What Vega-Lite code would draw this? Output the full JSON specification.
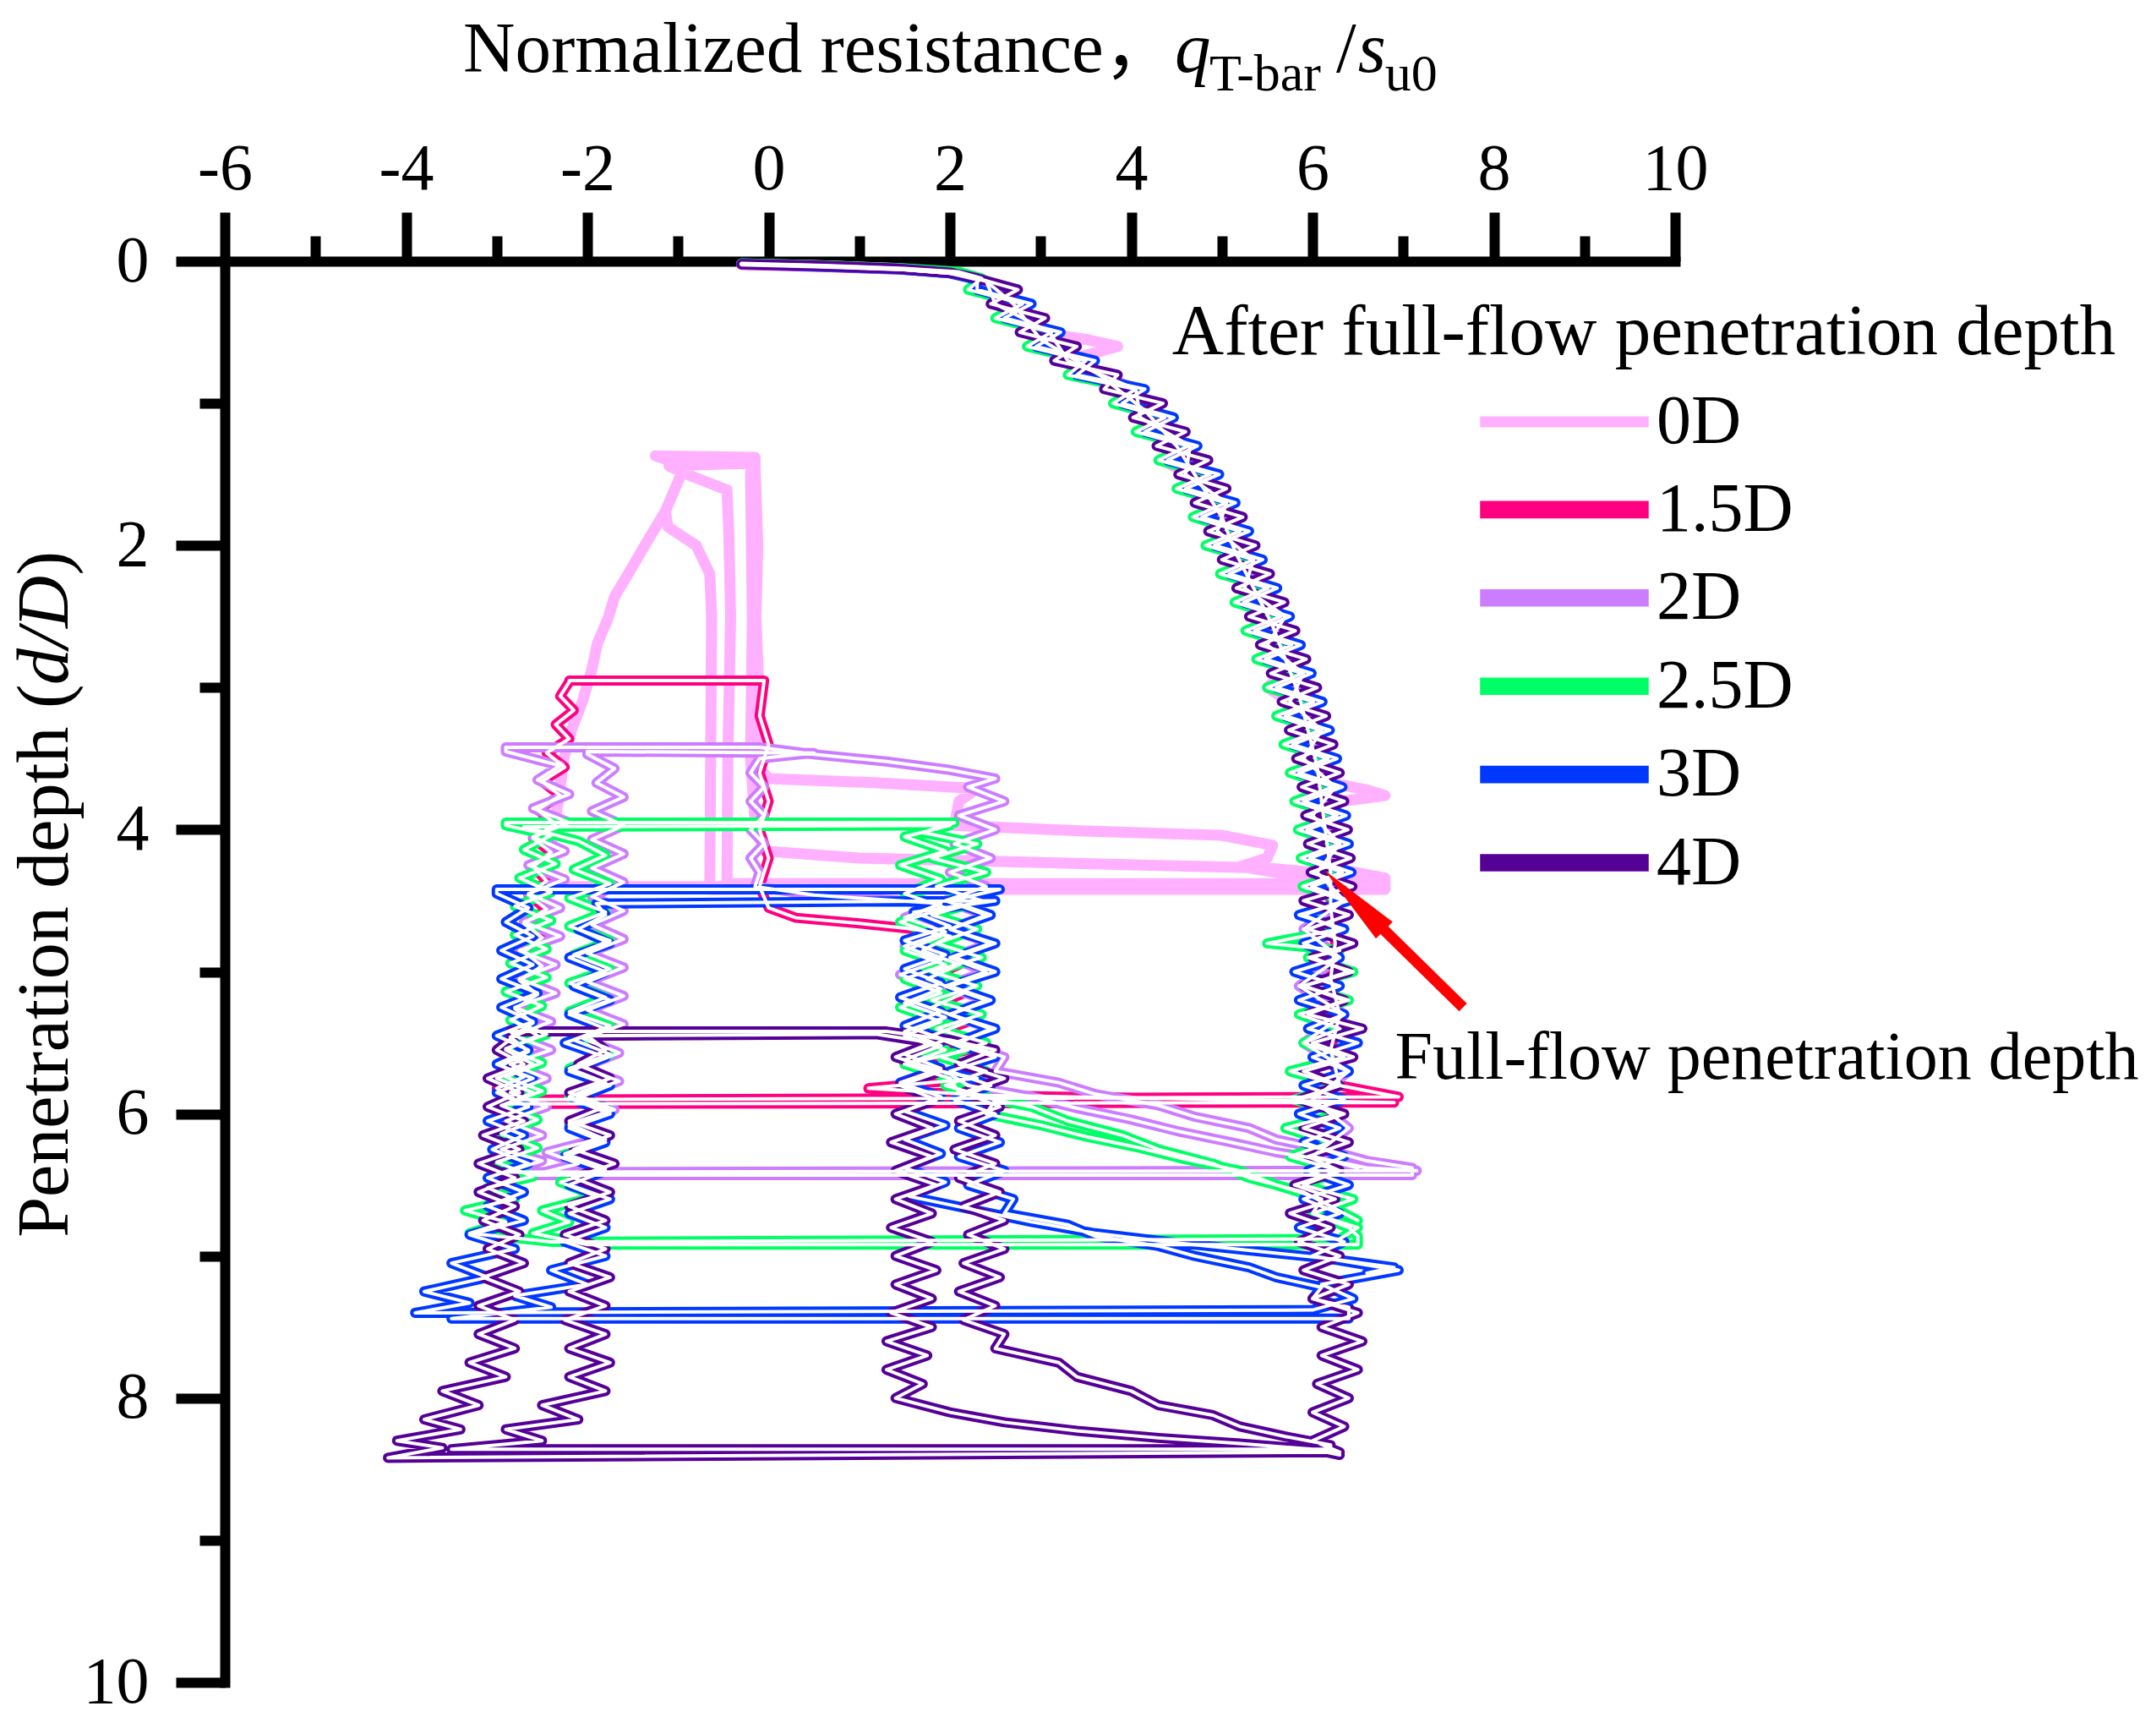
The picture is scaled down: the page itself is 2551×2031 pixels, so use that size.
{
"$schema":"https://vega.github.io/schema/vega-lite/v6.json",
"width":1716,"height":1681,"autosize":"none",
"padding":{"left":266,"top":309,"right":569,"bottom":41},
"background":"white",
"config":{"view":{"stroke":null},"font":"Liberation Serif",
 "axis":{"tickWidth":12,"tickColor":"black","domainWidth":12,"domainColor":"black","domainCap":"square","tickCap":"butt","labelFont":"Liberation Serif","labelFontSize":78,"labelColor":"black","labelOverlap":false,"labelFlush":false,"grid":false}},
"datasets":{"c":[
{"s":"0D","x":-0.3,"y":0.02},{"s":"0D","x":0.5,"y":0.03},{"s":"0D","x":1.4,"y":0.05},{"s":"0D","x":2.0,"y":0.08},{"s":"0D","x":2.3,"y":0.12},{"s":"0D","x":2.5,"y":0.2},{"s":"0D","x":2.65,"y":0.3},{"s":"0D","x":2.8,"y":0.4},{"s":"0D","x":2.97,"y":0.5},{"s":"0D","x":3.5,"y":0.55},{"s":"0D","x":3.85,"y":0.6},{"s":"0D","x":3.4,"y":0.68},{"s":"0D","x":3.6,"y":0.8},{"s":"0D","x":3.9,"y":0.9},{"s":"0D","x":4.1,"y":1.0},{"s":"0D","x":4.22,"y":1.1},{"s":"0D","x":4.35,"y":1.2},{"s":"0D","x":4.48,"y":1.3},{"s":"0D","x":4.4,"y":1.42},{"s":"0D","x":4.65,"y":1.5},{"s":"0D","x":4.72,"y":1.6},{"s":"0D","x":4.82,"y":1.7},{"s":"0D","x":4.9,"y":1.8},{"s":"0D","x":4.97,"y":1.9},{"s":"0D","x":5.05,"y":2.0},{"s":"0D","x":5.12,"y":2.1},{"s":"0D","x":5.2,"y":2.2},{"s":"0D","x":5.28,"y":2.3},{"s":"0D","x":5.34,"y":2.4},{"s":"0D","x":5.42,"y":2.5},{"s":"0D","x":5.5,"y":2.6},{"s":"0D","x":5.56,"y":2.7},{"s":"0D","x":5.62,"y":2.8},{"s":"0D","x":5.68,"y":2.9},{"s":"0D","x":5.5,"y":3.0},{"s":"0D","x":5.7,"y":3.08},{"s":"0D","x":5.85,"y":3.15},{"s":"0D","x":5.9,"y":3.25},{"s":"0D","x":5.95,"y":3.35},{"s":"0D","x":6.0,"y":3.45},{"s":"0D","x":6.02,"y":3.55},{"s":"0D","x":6.05,"y":3.65},{"s":"0D","x":6.6,"y":3.72},{"s":"0D","x":6.8,"y":3.76},{"s":"0D","x":6.1,"y":3.82},{"s":"0D","x":5.95,"y":3.9},{"s":"0D","x":6.12,"y":4.0},{"s":"0D","x":6.15,"y":4.1},{"s":"0D","x":6.18,"y":4.2},{"s":"0D","x":6.3,"y":4.28},{"s":"0D","x":6.8,"y":4.34},{"s":"0D","x":6.3,"y":4.4},
{"s":"0D","x":-2.45,"y":4.4},{"s":"0D","x":-2.4,"y":4.1},{"s":"0D","x":-2.32,"y":3.8},{"s":"0D","x":-2.26,"y":3.5},{"s":"0D","x":-2.17,"y":3.29},{"s":"0D","x":-2.05,"y":3.09},{"s":"0D","x":-1.95,"y":2.87},{"s":"0D","x":-1.89,"y":2.69},{"s":"0D","x":-1.77,"y":2.51},{"s":"0D","x":-1.7,"y":2.36},{"s":"0D","x":-1.55,"y":2.2},{"s":"0D","x":-1.33,"y":1.96},{"s":"0D","x":-1.14,"y":1.76},{"s":"0D","x":-0.96,"y":1.49},{"s":"0D","x":-1.0,"y":1.42},{"s":"0D","x":-1.25,"y":1.37},{"s":"0D","x":-0.15,"y":1.38},
{"s":"0D","x":-0.15,"y":1.45},{"s":"0D","x":-0.12,"y":2.0},{"s":"0D","x":-0.14,"y":2.5},{"s":"0D","x":-0.11,"y":3.0},{"s":"0D","x":-0.13,"y":3.55},{"s":"0D","x":0.0,"y":3.64},{"s":"0D","x":1.2,"y":3.67},{"s":"0D","x":2.3,"y":3.71},{"s":"0D","x":2.1,"y":3.8},{"s":"0D","x":2.05,"y":3.97},{"s":"0D","x":3.5,"y":4.01},{"s":"0D","x":5.0,"y":4.04},{"s":"0D","x":5.56,"y":4.11},{"s":"0D","x":5.5,"y":4.2},{"s":"0D","x":5.2,"y":4.26},{"s":"0D","x":5.8,"y":4.32},{"s":"0D","x":6.0,"y":4.36},{"s":"0D","x":6.0,"y":4.38},
{"s":"0D","x":-0.46,"y":4.38},{"s":"0D","x":-0.45,"y":3.5},{"s":"0D","x":-0.42,"y":2.5},{"s":"0D","x":-0.44,"y":1.9},{"s":"0D","x":-0.46,"y":1.61},{"s":"0D","x":-0.7,"y":1.55},{"s":"0D","x":-0.9,"y":1.5},{"s":"0D","x":-1.1,"y":1.44},{"s":"0D","x":-0.18,"y":1.42},
{"s":"0D","x":-0.2,"y":1.5},{"s":"0D","x":-0.18,"y":2.5},{"s":"0D","x":-0.2,"y":3.5},{"s":"0D","x":-0.15,"y":3.95},{"s":"0D","x":-0.05,"y":4.15},{"s":"0D","x":1.0,"y":4.2},{"s":"0D","x":4.2,"y":4.25},{"s":"0D","x":5.5,"y":4.27},{"s":"0D","x":6.5,"y":4.33},{"s":"0D","x":6.8,"y":4.36},{"s":"0D","x":6.8,"y":4.42},
{"s":"0D","x":-0.65,"y":4.42},{"s":"0D","x":-0.64,"y":3.5},{"s":"0D","x":-0.63,"y":2.5},{"s":"0D","x":-0.65,"y":2.2},{"s":"0D","x":-0.8,"y":2.0},{"s":"0D","x":-1.11,"y":1.87},{"s":"0D","x":-1.14,"y":1.76},{"s":"0D","x":-0.96,"y":1.49},{"s":"0D","x":-1.0,"y":1.42},

{"s":"1.5D","x":-0.3,"y":0.025},{"s":"1.5D","x":0.6,"y":0.04},{"s":"1.5D","x":1.5,"y":0.06},{"s":"1.5D","x":2.1,"y":0.09},{"s":"1.5D","x":2.4,"y":0.14},{"s":"1.5D","x":2.7,"y":0.3},{"s":"1.5D","x":3.0,"y":0.55},{"s":"1.5D","x":3.65,"y":0.8},{"s":"1.5D","x":4.15,"y":1.05},{"s":"1.5D","x":4.5,"y":1.3},{"s":"1.5D","x":4.75,"y":1.55},{"s":"1.5D","x":5.0,"y":1.8},{"s":"1.5D","x":5.15,"y":2.05},{"s":"1.5D","x":5.35,"y":2.3},{"s":"1.5D","x":5.55,"y":2.55},{"s":"1.5D","x":5.7,"y":2.8},{"s":"1.5D","x":5.85,"y":3.05},{"s":"1.5D","x":5.95,"y":3.3},{"s":"1.5D","x":6.05,"y":3.55},{"s":"1.5D","x":6.1,"y":3.8},{"s":"1.5D","x":6.15,"y":4.05},{"s":"1.5D","x":6.2,"y":4.3},{"s":"1.5D","x":6.2,"y":4.55},{"s":"1.5D","x":6.25,"y":4.8},{"s":"1.5D","x":6.2,"y":5.05},{"s":"1.5D","x":6.3,"y":5.3},{"s":"1.5D","x":6.2,"y":5.55},{"s":"1.5D","x":6.3,"y":5.8},{"s":"1.5D","x":6.95,"y":5.88},
{"s":"1.5D","x":-2.8,"y":5.9},{"s":"1.5D","x":-3.0,"y":5.82},{"s":"1.5D","x":-2.7,"y":5.74},{"s":"1.5D","x":-2.95,"y":5.66},{"s":"1.5D","x":-2.65,"y":5.56},{"s":"1.5D","x":-2.85,"y":5.46},{"s":"1.5D","x":-2.6,"y":5.36},{"s":"1.5D","x":-2.8,"y":5.26},{"s":"1.5D","x":-2.55,"y":5.16},{"s":"1.5D","x":-2.75,"y":5.06},{"s":"1.5D","x":-2.5,"y":4.96},{"s":"1.5D","x":-2.7,"y":4.86},{"s":"1.5D","x":-2.5,"y":4.76},{"s":"1.5D","x":-2.7,"y":4.66},{"s":"1.5D","x":-2.45,"y":4.56},{"s":"1.5D","x":-2.65,"y":4.46},{"s":"1.5D","x":-2.45,"y":4.36},{"s":"1.5D","x":-2.6,"y":4.26},{"s":"1.5D","x":-2.4,"y":4.16},{"s":"1.5D","x":-2.6,"y":4.06},{"s":"1.5D","x":-2.35,"y":3.96},{"s":"1.5D","x":-2.55,"y":3.86},{"s":"1.5D","x":-2.3,"y":3.76},{"s":"1.5D","x":-2.5,"y":3.66},{"s":"1.5D","x":-2.25,"y":3.56},{"s":"1.5D","x":-2.45,"y":3.46},{"s":"1.5D","x":-2.2,"y":3.36},{"s":"1.5D","x":-2.35,"y":3.26},{"s":"1.5D","x":-2.15,"y":3.16},{"s":"1.5D","x":-2.3,"y":3.06},{"s":"1.5D","x":-2.2,"y":2.96},{"s":"1.5D","x":-2.2,"y":2.95},
{"s":"1.5D","x":-0.05,"y":2.95},{"s":"1.5D","x":-0.1,"y":3.2},{"s":"1.5D","x":0.0,"y":3.4},{"s":"1.5D","x":-0.1,"y":3.6},{"s":"1.5D","x":0.0,"y":3.8},{"s":"1.5D","x":-0.1,"y":4.0},{"s":"1.5D","x":0.0,"y":4.2},{"s":"1.5D","x":-0.1,"y":4.4},{"s":"1.5D","x":0.0,"y":4.55},{"s":"1.5D","x":0.3,"y":4.62},{"s":"1.5D","x":1.0,"y":4.66},{"s":"1.5D","x":1.6,"y":4.7},{"s":"1.5D","x":2.0,"y":4.75},{"s":"1.5D","x":1.7,"y":4.85},{"s":"1.5D","x":2.1,"y":4.95},{"s":"1.5D","x":1.75,"y":5.05},{"s":"1.5D","x":2.15,"y":5.15},{"s":"1.5D","x":1.8,"y":5.25},{"s":"1.5D","x":2.2,"y":5.35},{"s":"1.5D","x":1.8,"y":5.45},{"s":"1.5D","x":2.2,"y":5.55},{"s":"1.5D","x":1.5,"y":5.65},{"s":"1.5D","x":2.3,"y":5.75},{"s":"1.5D","x":1.1,"y":5.82},{"s":"1.5D","x":2.4,"y":5.87},{"s":"1.5D","x":6.9,"y":5.92},
{"s":"1.5D","x":-2.9,"y":5.93},{"s":"1.5D","x":-2.6,"y":5.85},{"s":"1.5D","x":-3.0,"y":5.75},{"s":"1.5D","x":-2.6,"y":5.65},{"s":"1.5D","x":-2.9,"y":5.55},{"s":"1.5D","x":-2.55,"y":5.45},{"s":"1.5D","x":-2.8,"y":5.35},

{"s":"2D","x":-0.3,"y":0.02},{"s":"2D","x":0.6,"y":0.035},{"s":"2D","x":1.5,"y":0.06},{"s":"2D","x":2.1,"y":0.09},{"s":"2D","x":2.4,"y":0.14},{"s":"2D","x":2.5,"y":0.3},{"s":"2D","x":3.1,"y":0.5},{"s":"2D","x":3.3,"y":0.7},{"s":"2D","x":4.05,"y":0.9},{"s":"2D","x":4.1,"y":1.1},{"s":"2D","x":4.65,"y":1.3},{"s":"2D","x":4.6,"y":1.5},{"s":"2D","x":5.05,"y":1.7},{"s":"2D","x":4.95,"y":1.9},{"s":"2D","x":5.35,"y":2.1},{"s":"2D","x":5.25,"y":2.3},{"s":"2D","x":5.7,"y":2.5},{"s":"2D","x":5.5,"y":2.7},{"s":"2D","x":5.9,"y":2.9},{"s":"2D","x":5.75,"y":3.1},{"s":"2D","x":6.1,"y":3.3},{"s":"2D","x":5.9,"y":3.5},{"s":"2D","x":6.25,"y":3.7},{"s":"2D","x":6.0,"y":3.9},{"s":"2D","x":6.3,"y":4.1},{"s":"2D","x":6.05,"y":4.3},{"s":"2D","x":6.35,"y":4.5},{"s":"2D","x":5.9,"y":4.7},{"s":"2D","x":6.3,"y":4.9},{"s":"2D","x":5.85,"y":5.1},{"s":"2D","x":6.35,"y":5.3},{"s":"2D","x":5.9,"y":5.5},{"s":"2D","x":6.4,"y":5.7},{"s":"2D","x":6.0,"y":5.9},{"s":"2D","x":6.4,"y":6.1},{"s":"2D","x":6.0,"y":6.3},{"s":"2D","x":6.6,"y":6.38},{"s":"2D","x":7.15,"y":6.4},
{"s":"2D","x":-2.9,"y":6.41},{"s":"2D","x":-2.5,"y":6.33},{"s":"2D","x":-2.95,"y":6.25},{"s":"2D","x":-2.5,"y":6.15},{"s":"2D","x":-2.9,"y":6.05},{"s":"2D","x":-2.45,"y":5.95},{"s":"2D","x":-2.85,"y":5.85},{"s":"2D","x":-2.45,"y":5.75},{"s":"2D","x":-2.85,"y":5.65},{"s":"2D","x":-2.4,"y":5.55},{"s":"2D","x":-2.8,"y":5.45},{"s":"2D","x":-2.4,"y":5.35},{"s":"2D","x":-2.8,"y":5.25},{"s":"2D","x":-2.35,"y":5.15},{"s":"2D","x":-2.75,"y":5.05},{"s":"2D","x":-2.35,"y":4.95},{"s":"2D","x":-2.75,"y":4.85},{"s":"2D","x":-2.3,"y":4.75},{"s":"2D","x":-2.7,"y":4.65},{"s":"2D","x":-2.3,"y":4.55},{"s":"2D","x":-2.65,"y":4.45},{"s":"2D","x":-2.25,"y":4.35},{"s":"2D","x":-2.65,"y":4.25},{"s":"2D","x":-2.25,"y":4.15},{"s":"2D","x":-2.6,"y":4.05},{"s":"2D","x":-2.2,"y":3.95},{"s":"2D","x":-2.6,"y":3.85},{"s":"2D","x":-2.2,"y":3.75},{"s":"2D","x":-2.55,"y":3.65},{"s":"2D","x":-2.3,"y":3.55},{"s":"2D","x":-2.9,"y":3.45},{"s":"2D","x":-2.9,"y":3.42},
{"s":"2D","x":-0.1,"y":3.42},{"s":"2D","x":0.5,"y":3.47},{"s":"2D","x":1.3,"y":3.52},{"s":"2D","x":2.0,"y":3.58},{"s":"2D","x":2.5,"y":3.64},{"s":"2D","x":2.2,"y":3.7},{"s":"2D","x":2.6,"y":3.8},{"s":"2D","x":2.1,"y":3.9},{"s":"2D","x":2.5,"y":4.0},{"s":"2D","x":2.05,"y":4.1},{"s":"2D","x":2.45,"y":4.2},{"s":"2D","x":2.0,"y":4.3},{"s":"2D","x":2.4,"y":4.4},{"s":"2D","x":1.95,"y":4.5},{"s":"2D","x":2.4,"y":4.6},{"s":"2D","x":2.0,"y":4.7},{"s":"2D","x":2.45,"y":4.8},{"s":"2D","x":2.0,"y":4.9},{"s":"2D","x":2.4,"y":5.0},{"s":"2D","x":1.95,"y":5.1},{"s":"2D","x":2.4,"y":5.2},{"s":"2D","x":2.0,"y":5.3},{"s":"2D","x":2.45,"y":5.4},{"s":"2D","x":2.1,"y":5.5},{"s":"2D","x":2.6,"y":5.6},{"s":"2D","x":2.5,"y":5.7},{"s":"2D","x":3.2,"y":5.78},{"s":"2D","x":3.6,"y":5.86},{"s":"2D","x":4.3,"y":5.94},{"s":"2D","x":4.7,"y":6.02},{"s":"2D","x":5.3,"y":6.1},{"s":"2D","x":5.6,"y":6.18},{"s":"2D","x":6.2,"y":6.26},{"s":"2D","x":6.6,"y":6.33},{"s":"2D","x":7.1,"y":6.38},{"s":"2D","x":7.1,"y":6.43},
{"s":"2D","x":-2.6,"y":6.43},{"s":"2D","x":-2.1,"y":6.35},{"s":"2D","x":-2.45,"y":6.27},{"s":"2D","x":-1.85,"y":6.17},{"s":"2D","x":-2.2,"y":6.07},{"s":"2D","x":-1.7,"y":5.97},{"s":"2D","x":-2.1,"y":5.87},{"s":"2D","x":-1.65,"y":5.77},{"s":"2D","x":-2.05,"y":5.67},{"s":"2D","x":-1.65,"y":5.57},{"s":"2D","x":-2.05,"y":5.47},{"s":"2D","x":-1.6,"y":5.37},{"s":"2D","x":-2.0,"y":5.27},{"s":"2D","x":-1.6,"y":5.17},{"s":"2D","x":-2.0,"y":5.07},{"s":"2D","x":-1.6,"y":4.97},{"s":"2D","x":-2.0,"y":4.87},{"s":"2D","x":-1.6,"y":4.77},{"s":"2D","x":-1.95,"y":4.67},{"s":"2D","x":-1.6,"y":4.57},{"s":"2D","x":-1.95,"y":4.47},{"s":"2D","x":-1.6,"y":4.37},{"s":"2D","x":-1.95,"y":4.27},{"s":"2D","x":-1.6,"y":4.17},{"s":"2D","x":-1.95,"y":4.07},{"s":"2D","x":-1.6,"y":3.97},{"s":"2D","x":-1.95,"y":3.87},{"s":"2D","x":-1.6,"y":3.77},{"s":"2D","x":-1.9,"y":3.67},{"s":"2D","x":-1.7,"y":3.57},{"s":"2D","x":-2.0,"y":3.47},{"s":"2D","x":-2.0,"y":3.45},
{"s":"2D","x":0.5,"y":3.46},{"s":"2D","x":-0.1,"y":3.5},{"s":"2D","x":-0.2,"y":3.6},{"s":"2D","x":-0.05,"y":3.7},{"s":"2D","x":-0.2,"y":3.8},{"s":"2D","x":-0.05,"y":3.9},{"s":"2D","x":-0.2,"y":4.0},{"s":"2D","x":-0.05,"y":4.1},{"s":"2D","x":-0.2,"y":4.2},{"s":"2D","x":-0.1,"y":4.3},{"s":"2D","x":-0.15,"y":4.4},{"s":"2D","x":0.5,"y":4.46},{"s":"2D","x":1.9,"y":4.52},{"s":"2D","x":1.5,"y":4.62},{"s":"2D","x":1.95,"y":4.72},{"s":"2D","x":1.5,"y":4.82},{"s":"2D","x":1.9,"y":4.92},{"s":"2D","x":1.45,"y":5.02},{"s":"2D","x":1.9,"y":5.12},{"s":"2D","x":1.5,"y":5.22},{"s":"2D","x":1.95,"y":5.32},{"s":"2D","x":1.5,"y":5.42},{"s":"2D","x":1.9,"y":5.52},{"s":"2D","x":1.5,"y":5.62},{"s":"2D","x":2.0,"y":5.72},{"s":"2D","x":2.2,"y":5.8},{"s":"2D","x":2.9,"y":5.88},{"s":"2D","x":3.4,"y":5.96},{"s":"2D","x":4.0,"y":6.04},{"s":"2D","x":4.5,"y":6.12},{"s":"2D","x":5.1,"y":6.2},{"s":"2D","x":5.6,"y":6.27},{"s":"2D","x":6.2,"y":6.33},{"s":"2D","x":6.5,"y":6.38},

{"s":"2.5D","x":-0.3,"y":0.015},{"s":"2.5D","x":0.6,"y":0.03},{"s":"2.5D","x":1.5,"y":0.05},{"s":"2.5D","x":2.1,"y":0.075},{"s":"2.5D","x":2.35,"y":0.12},{"s":"2.5D","x":2.2,"y":0.2},{"s":"2.5D","x":2.8,"y":0.3},{"s":"2.5D","x":2.5,"y":0.4},{"s":"2.5D","x":3.12,"y":0.5},{"s":"2.5D","x":2.85,"y":0.6},{"s":"2.5D","x":3.5,"y":0.7},{"s":"2.5D","x":3.3,"y":0.8},{"s":"2.5D","x":4.05,"y":0.9},{"s":"2.5D","x":3.8,"y":1.0},{"s":"2.5D","x":4.37,"y":1.1},{"s":"2.5D","x":4.05,"y":1.2},{"s":"2.5D","x":4.63,"y":1.3},{"s":"2.5D","x":4.3,"y":1.4},{"s":"2.5D","x":4.87,"y":1.5},{"s":"2.5D","x":4.5,"y":1.6},{"s":"2.5D","x":5.05,"y":1.7},{"s":"2.5D","x":4.68,"y":1.8},{"s":"2.5D","x":5.2,"y":1.9},{"s":"2.5D","x":4.82,"y":2.0},{"s":"2.5D","x":5.35,"y":2.1},{"s":"2.5D","x":4.98,"y":2.2},{"s":"2.5D","x":5.51,"y":2.3},{"s":"2.5D","x":5.14,"y":2.4},{"s":"2.5D","x":5.65,"y":2.5},{"s":"2.5D","x":5.26,"y":2.6},{"s":"2.5D","x":5.77,"y":2.7},{"s":"2.5D","x":5.38,"y":2.8},{"s":"2.5D","x":5.89,"y":2.9},{"s":"2.5D","x":5.5,"y":3.0},{"s":"2.5D","x":6.01,"y":3.1},{"s":"2.5D","x":5.6,"y":3.2},{"s":"2.5D","x":6.09,"y":3.3},{"s":"2.5D","x":5.68,"y":3.4},{"s":"2.5D","x":6.17,"y":3.5},{"s":"2.5D","x":5.75,"y":3.6},{"s":"2.5D","x":6.23,"y":3.7},{"s":"2.5D","x":5.8,"y":3.8},{"s":"2.5D","x":6.27,"y":3.9},{"s":"2.5D","x":5.84,"y":4.0},{"s":"2.5D","x":6.3,"y":4.1},{"s":"2.5D","x":5.87,"y":4.2},{"s":"2.5D","x":6.33,"y":4.3},{"s":"2.5D","x":5.89,"y":4.4},{"s":"2.5D","x":6.35,"y":4.5},{"s":"2.5D","x":5.9,"y":4.6},{"s":"2.5D","x":6.3,"y":4.7},{"s":"2.5D","x":5.5,"y":4.8},{"s":"2.5D","x":6.3,"y":4.85},{"s":"2.5D","x":5.95,"y":4.9},{"s":"2.5D","x":6.45,"y":5.0},{"s":"2.5D","x":5.9,"y":5.1},{"s":"2.5D","x":6.4,"y":5.2},{"s":"2.5D","x":5.85,"y":5.3},{"s":"2.5D","x":6.3,"y":5.4},{"s":"2.5D","x":5.9,"y":5.5},{"s":"2.5D","x":6.35,"y":5.6},{"s":"2.5D","x":5.75,"y":5.7},{"s":"2.5D","x":6.3,"y":5.8},{"s":"2.5D","x":5.8,"y":5.9},{"s":"2.5D","x":6.3,"y":6.0},{"s":"2.5D","x":5.7,"y":6.1},{"s":"2.5D","x":6.2,"y":6.2},{"s":"2.5D","x":5.75,"y":6.3},{"s":"2.5D","x":6.3,"y":6.4},{"s":"2.5D","x":5.9,"y":6.5},{"s":"2.5D","x":6.45,"y":6.6},{"s":"2.5D","x":6.0,"y":6.7},{"s":"2.5D","x":6.5,"y":6.8},{"s":"2.5D","x":6.3,"y":6.88},
{"s":"2.5D","x":-2.4,"y":6.9},{"s":"2.5D","x":-3.3,"y":6.84},{"s":"2.5D","x":-2.9,"y":6.76},{"s":"2.5D","x":-3.35,"y":6.68},{"s":"2.5D","x":-2.8,"y":6.6},{"s":"2.5D","x":-3.1,"y":6.52},{"s":"2.5D","x":-2.6,"y":6.44},{"s":"2.5D","x":-3.0,"y":6.34},{"s":"2.5D","x":-2.55,"y":6.24},{"s":"2.5D","x":-2.95,"y":6.14},{"s":"2.5D","x":-2.55,"y":6.04},{"s":"2.5D","x":-2.95,"y":5.94},{"s":"2.5D","x":-2.5,"y":5.84},{"s":"2.5D","x":-2.9,"y":5.74},{"s":"2.5D","x":-2.5,"y":5.64},{"s":"2.5D","x":-2.9,"y":5.54},{"s":"2.5D","x":-2.45,"y":5.44},{"s":"2.5D","x":-2.85,"y":5.34},{"s":"2.5D","x":-2.5,"y":5.24},{"s":"2.5D","x":-2.9,"y":5.14},{"s":"2.5D","x":-2.45,"y":5.04},{"s":"2.5D","x":-2.85,"y":4.94},{"s":"2.5D","x":-2.45,"y":4.84},{"s":"2.5D","x":-2.8,"y":4.74},{"s":"2.5D","x":-2.4,"y":4.64},{"s":"2.5D","x":-2.8,"y":4.54},{"s":"2.5D","x":-2.4,"y":4.44},{"s":"2.5D","x":-2.75,"y":4.34},{"s":"2.5D","x":-2.35,"y":4.24},{"s":"2.5D","x":-2.7,"y":4.14},{"s":"2.5D","x":-2.4,"y":4.04},{"s":"2.5D","x":-2.9,"y":3.97},{"s":"2.5D","x":-2.9,"y":3.95},
{"s":"2.5D","x":2.05,"y":3.95},{"s":"2.5D","x":1.7,"y":4.02},{"s":"2.5D","x":2.3,"y":4.1},{"s":"2.5D","x":1.8,"y":4.2},{"s":"2.5D","x":2.4,"y":4.3},{"s":"2.5D","x":1.85,"y":4.4},{"s":"2.5D","x":2.35,"y":4.5},{"s":"2.5D","x":1.8,"y":4.6},{"s":"2.5D","x":2.3,"y":4.7},{"s":"2.5D","x":1.85,"y":4.8},{"s":"2.5D","x":2.35,"y":4.9},{"s":"2.5D","x":1.8,"y":5.0},{"s":"2.5D","x":2.3,"y":5.1},{"s":"2.5D","x":1.8,"y":5.2},{"s":"2.5D","x":2.35,"y":5.3},{"s":"2.5D","x":1.85,"y":5.4},{"s":"2.5D","x":2.4,"y":5.5},{"s":"2.5D","x":1.9,"y":5.6},{"s":"2.5D","x":2.4,"y":5.7},{"s":"2.5D","x":1.95,"y":5.8},{"s":"2.5D","x":2.5,"y":5.9},{"s":"2.5D","x":2.4,"y":6.0},{"s":"2.5D","x":3.0,"y":6.08},{"s":"2.5D","x":3.5,"y":6.16},{"s":"2.5D","x":4.1,"y":6.24},{"s":"2.5D","x":4.6,"y":6.32},{"s":"2.5D","x":5.2,"y":6.4},{"s":"2.5D","x":5.6,"y":6.5},{"s":"2.5D","x":6.1,"y":6.6},{"s":"2.5D","x":6.0,"y":6.7},{"s":"2.5D","x":6.4,"y":6.8},{"s":"2.5D","x":6.5,"y":6.86},{"s":"2.5D","x":6.5,"y":6.92},
{"s":"2.5D","x":-2.0,"y":6.92},{"s":"2.5D","x":-2.6,"y":6.84},{"s":"2.5D","x":-2.2,"y":6.76},{"s":"2.5D","x":-2.5,"y":6.68},{"s":"2.5D","x":-1.9,"y":6.58},{"s":"2.5D","x":-2.3,"y":6.48},{"s":"2.5D","x":-1.8,"y":6.38},{"s":"2.5D","x":-2.25,"y":6.28},{"s":"2.5D","x":-1.8,"y":6.18},{"s":"2.5D","x":-2.2,"y":6.08},{"s":"2.5D","x":-1.75,"y":5.98},{"s":"2.5D","x":-2.2,"y":5.88},{"s":"2.5D","x":-1.8,"y":5.78},{"s":"2.5D","x":-2.2,"y":5.68},{"s":"2.5D","x":-1.75,"y":5.58},{"s":"2.5D","x":-2.15,"y":5.48},{"s":"2.5D","x":-1.75,"y":5.38},{"s":"2.5D","x":-2.2,"y":5.28},{"s":"2.5D","x":-1.8,"y":5.18},{"s":"2.5D","x":-2.2,"y":5.08},{"s":"2.5D","x":-1.75,"y":4.98},{"s":"2.5D","x":-2.15,"y":4.88},{"s":"2.5D","x":-1.75,"y":4.78},{"s":"2.5D","x":-2.2,"y":4.68},{"s":"2.5D","x":-1.8,"y":4.58},{"s":"2.5D","x":-2.2,"y":4.48},{"s":"2.5D","x":-1.75,"y":4.38},{"s":"2.5D","x":-2.15,"y":4.28},{"s":"2.5D","x":-1.8,"y":4.18},{"s":"2.5D","x":-2.1,"y":4.08},{"s":"2.5D","x":-2.7,"y":3.98},
{"s":"2.5D","x":2.0,"y":3.97},{"s":"2.5D","x":1.5,"y":4.05},{"s":"2.5D","x":1.95,"y":4.15},{"s":"2.5D","x":1.45,"y":4.25},{"s":"2.5D","x":1.9,"y":4.35},{"s":"2.5D","x":1.5,"y":4.45},{"s":"2.5D","x":1.95,"y":4.55},{"s":"2.5D","x":1.45,"y":4.65},{"s":"2.5D","x":1.9,"y":4.75},{"s":"2.5D","x":1.5,"y":4.85},{"s":"2.5D","x":1.95,"y":4.95},{"s":"2.5D","x":1.5,"y":5.05},{"s":"2.5D","x":1.9,"y":5.15},{"s":"2.5D","x":1.45,"y":5.25},{"s":"2.5D","x":1.9,"y":5.35},{"s":"2.5D","x":1.5,"y":5.45},{"s":"2.5D","x":1.95,"y":5.55},{"s":"2.5D","x":1.5,"y":5.65},{"s":"2.5D","x":2.0,"y":5.75},{"s":"2.5D","x":2.1,"y":5.85},{"s":"2.5D","x":2.9,"y":5.95},{"s":"2.5D","x":3.3,"y":6.05},{"s":"2.5D","x":3.9,"y":6.15},{"s":"2.5D","x":4.3,"y":6.25},{"s":"2.5D","x":4.9,"y":6.35},{"s":"2.5D","x":5.3,"y":6.45},{"s":"2.5D","x":5.9,"y":6.55},{"s":"2.5D","x":6.2,"y":6.65},{"s":"2.5D","x":6.5,"y":6.75},

{"s":"3D","x":-0.3,"y":0.02},{"s":"3D","x":0.5,"y":0.035},{"s":"3D","x":1.4,"y":0.055},{"s":"3D","x":2.0,"y":0.085},{"s":"3D","x":2.3,"y":0.13},{"s":"3D","x":2.3,"y":0.2},{"s":"3D","x":2.9,"y":0.3},{"s":"3D","x":2.6,"y":0.4},{"s":"3D","x":3.22,"y":0.5},{"s":"3D","x":2.95,"y":0.6},{"s":"3D","x":3.6,"y":0.7},{"s":"3D","x":3.4,"y":0.8},{"s":"3D","x":4.15,"y":0.9},{"s":"3D","x":3.9,"y":1.0},{"s":"3D","x":4.47,"y":1.1},{"s":"3D","x":4.15,"y":1.2},{"s":"3D","x":4.73,"y":1.3},{"s":"3D","x":4.4,"y":1.4},{"s":"3D","x":4.97,"y":1.5},{"s":"3D","x":4.6,"y":1.6},{"s":"3D","x":5.15,"y":1.7},{"s":"3D","x":4.78,"y":1.8},{"s":"3D","x":5.3,"y":1.9},{"s":"3D","x":4.92,"y":2.0},{"s":"3D","x":5.45,"y":2.1},{"s":"3D","x":5.08,"y":2.2},{"s":"3D","x":5.61,"y":2.3},{"s":"3D","x":5.24,"y":2.4},{"s":"3D","x":5.75,"y":2.5},{"s":"3D","x":5.36,"y":2.6},{"s":"3D","x":5.87,"y":2.7},{"s":"3D","x":5.48,"y":2.8},{"s":"3D","x":5.99,"y":2.9},{"s":"3D","x":5.6,"y":3.0},{"s":"3D","x":6.11,"y":3.1},{"s":"3D","x":5.7,"y":3.2},{"s":"3D","x":6.19,"y":3.3},{"s":"3D","x":5.78,"y":3.4},{"s":"3D","x":6.27,"y":3.5},{"s":"3D","x":5.85,"y":3.6},{"s":"3D","x":6.33,"y":3.7},{"s":"3D","x":5.9,"y":3.8},{"s":"3D","x":6.37,"y":3.9},{"s":"3D","x":5.94,"y":4.0},{"s":"3D","x":6.4,"y":4.1},{"s":"3D","x":5.97,"y":4.2},{"s":"3D","x":6.43,"y":4.3},{"s":"3D","x":5.99,"y":4.4},{"s":"3D","x":6.4,"y":4.5},{"s":"3D","x":5.85,"y":4.6},{"s":"3D","x":6.35,"y":4.7},{"s":"3D","x":5.9,"y":4.8},{"s":"3D","x":6.3,"y":4.9},{"s":"3D","x":5.8,"y":5.0},{"s":"3D","x":6.3,"y":5.1},{"s":"3D","x":5.85,"y":5.2},{"s":"3D","x":6.35,"y":5.3},{"s":"3D","x":5.95,"y":5.4},{"s":"3D","x":6.5,"y":5.5},{"s":"3D","x":6.0,"y":5.6},{"s":"3D","x":6.4,"y":5.7},{"s":"3D","x":5.9,"y":5.8},{"s":"3D","x":6.35,"y":5.9},{"s":"3D","x":5.85,"y":6.0},{"s":"3D","x":6.3,"y":6.1},{"s":"3D","x":5.9,"y":6.2},{"s":"3D","x":6.35,"y":6.3},{"s":"3D","x":5.95,"y":6.4},{"s":"3D","x":6.4,"y":6.5},{"s":"3D","x":5.9,"y":6.6},{"s":"3D","x":6.3,"y":6.7},{"s":"3D","x":5.85,"y":6.8},{"s":"3D","x":6.35,"y":6.9},{"s":"3D","x":6.0,"y":7.0},{"s":"3D","x":6.95,"y":7.1},{"s":"3D","x":6.1,"y":7.2},{"s":"3D","x":6.45,"y":7.3},{"s":"3D","x":6.0,"y":7.38},
{"s":"3D","x":-3.9,"y":7.4},{"s":"3D","x":-3.3,"y":7.33},{"s":"3D","x":-3.8,"y":7.25},{"s":"3D","x":-3.1,"y":7.15},{"s":"3D","x":-3.5,"y":7.05},{"s":"3D","x":-2.8,"y":6.95},{"s":"3D","x":-3.3,"y":6.85},{"s":"3D","x":-2.7,"y":6.75},{"s":"3D","x":-3.1,"y":6.65},{"s":"3D","x":-2.7,"y":6.55},{"s":"3D","x":-3.1,"y":6.45},{"s":"3D","x":-2.65,"y":6.35},{"s":"3D","x":-3.05,"y":6.25},{"s":"3D","x":-2.7,"y":6.15},{"s":"3D","x":-3.1,"y":6.05},{"s":"3D","x":-2.65,"y":5.95},{"s":"3D","x":-3.0,"y":5.85},{"s":"3D","x":-2.6,"y":5.75},{"s":"3D","x":-3.0,"y":5.65},{"s":"3D","x":-2.65,"y":5.55},{"s":"3D","x":-3.0,"y":5.45},{"s":"3D","x":-2.6,"y":5.35},{"s":"3D","x":-2.95,"y":5.25},{"s":"3D","x":-2.55,"y":5.15},{"s":"3D","x":-2.95,"y":5.05},{"s":"3D","x":-2.6,"y":4.95},{"s":"3D","x":-2.95,"y":4.85},{"s":"3D","x":-2.6,"y":4.75},{"s":"3D","x":-2.9,"y":4.65},{"s":"3D","x":-2.65,"y":4.55},{"s":"3D","x":-3.0,"y":4.45},{"s":"3D","x":-3.0,"y":4.42},
{"s":"3D","x":2.55,"y":4.42},{"s":"3D","x":2.0,"y":4.5},{"s":"3D","x":2.45,"y":4.6},{"s":"3D","x":2.0,"y":4.7},{"s":"3D","x":2.5,"y":4.8},{"s":"3D","x":2.05,"y":4.9},{"s":"3D","x":2.5,"y":5.0},{"s":"3D","x":2.0,"y":5.1},{"s":"3D","x":2.45,"y":5.2},{"s":"3D","x":2.0,"y":5.3},{"s":"3D","x":2.5,"y":5.4},{"s":"3D","x":2.05,"y":5.5},{"s":"3D","x":2.5,"y":5.6},{"s":"3D","x":2.0,"y":5.7},{"s":"3D","x":2.45,"y":5.8},{"s":"3D","x":2.05,"y":5.9},{"s":"3D","x":2.5,"y":6.0},{"s":"3D","x":2.1,"y":6.1},{"s":"3D","x":2.55,"y":6.2},{"s":"3D","x":2.1,"y":6.3},{"s":"3D","x":2.6,"y":6.4},{"s":"3D","x":2.2,"y":6.5},{"s":"3D","x":2.7,"y":6.6},{"s":"3D","x":2.6,"y":6.7},{"s":"3D","x":3.3,"y":6.78},{"s":"3D","x":3.6,"y":6.86},{"s":"3D","x":4.3,"y":6.93},{"s":"3D","x":4.7,"y":7.0},{"s":"3D","x":5.3,"y":7.08},{"s":"3D","x":5.6,"y":7.15},{"s":"3D","x":6.1,"y":7.22},{"s":"3D","x":6.0,"y":7.3},{"s":"3D","x":6.4,"y":7.36},{"s":"3D","x":6.4,"y":7.44},
{"s":"3D","x":-3.5,"y":7.44},{"s":"3D","x":-2.4,"y":7.36},{"s":"3D","x":-2.8,"y":7.28},{"s":"3D","x":-2.0,"y":7.2},{"s":"3D","x":-2.4,"y":7.1},{"s":"3D","x":-1.8,"y":7.0},{"s":"3D","x":-2.25,"y":6.9},{"s":"3D","x":-1.8,"y":6.8},{"s":"3D","x":-2.2,"y":6.7},{"s":"3D","x":-1.75,"y":6.6},{"s":"3D","x":-2.2,"y":6.5},{"s":"3D","x":-1.8,"y":6.4},{"s":"3D","x":-2.25,"y":6.3},{"s":"3D","x":-1.8,"y":6.2},{"s":"3D","x":-2.2,"y":6.1},{"s":"3D","x":-1.75,"y":6.0},{"s":"3D","x":-2.15,"y":5.9},{"s":"3D","x":-1.75,"y":5.8},{"s":"3D","x":-2.2,"y":5.7},{"s":"3D","x":-1.8,"y":5.6},{"s":"3D","x":-2.25,"y":5.5},{"s":"3D","x":-1.8,"y":5.4},{"s":"3D","x":-2.2,"y":5.3},{"s":"3D","x":-1.75,"y":5.2},{"s":"3D","x":-2.15,"y":5.1},{"s":"3D","x":-1.8,"y":5.0},{"s":"3D","x":-2.2,"y":4.9},{"s":"3D","x":-1.75,"y":4.8},{"s":"3D","x":-2.1,"y":4.7},{"s":"3D","x":-1.8,"y":4.6},{"s":"3D","x":-1.9,"y":4.52},
{"s":"3D","x":2.5,"y":4.5},{"s":"3D","x":1.6,"y":4.58},{"s":"3D","x":2.0,"y":4.68},{"s":"3D","x":1.5,"y":4.78},{"s":"3D","x":1.95,"y":4.88},{"s":"3D","x":1.5,"y":4.98},{"s":"3D","x":1.9,"y":5.08},{"s":"3D","x":1.45,"y":5.18},{"s":"3D","x":1.9,"y":5.28},{"s":"3D","x":1.5,"y":5.38},{"s":"3D","x":1.95,"y":5.48},{"s":"3D","x":1.5,"y":5.58},{"s":"3D","x":1.9,"y":5.68},{"s":"3D","x":1.45,"y":5.78},{"s":"3D","x":1.9,"y":5.88},{"s":"3D","x":1.5,"y":5.98},{"s":"3D","x":1.95,"y":6.08},{"s":"3D","x":1.5,"y":6.18},{"s":"3D","x":1.9,"y":6.28},{"s":"3D","x":1.5,"y":6.38},{"s":"3D","x":1.95,"y":6.48},{"s":"3D","x":1.55,"y":6.58},{"s":"3D","x":2.3,"y":6.68},{"s":"3D","x":2.9,"y":6.76},{"s":"3D","x":3.6,"y":6.84},{"s":"3D","x":4.4,"y":6.9},{"s":"3D","x":5.3,"y":6.96},{"s":"3D","x":6.2,"y":7.02},{"s":"3D","x":6.9,"y":7.08},{"s":"3D","x":6.6,"y":7.12},

{"s":"4D","x":-0.3,"y":0.02},{"s":"4D","x":0.5,"y":0.03},{"s":"4D","x":1.4,"y":0.05},{"s":"4D","x":2.0,"y":0.08},{"s":"4D","x":2.3,"y":0.12},{"s":"4D","x":2.75,"y":0.2},{"s":"4D","x":2.45,"y":0.3},{"s":"4D","x":3.05,"y":0.4},{"s":"4D","x":2.77,"y":0.5},{"s":"4D","x":3.4,"y":0.6},{"s":"4D","x":3.15,"y":0.7},{"s":"4D","x":3.85,"y":0.8},{"s":"4D","x":3.7,"y":0.9},{"s":"4D","x":4.35,"y":1.0},{"s":"4D","x":4.02,"y":1.1},{"s":"4D","x":4.6,"y":1.2},{"s":"4D","x":4.28,"y":1.3},{"s":"4D","x":4.85,"y":1.4},{"s":"4D","x":4.52,"y":1.5},{"s":"4D","x":5.05,"y":1.6},{"s":"4D","x":4.7,"y":1.7},{"s":"4D","x":5.23,"y":1.8},{"s":"4D","x":4.85,"y":1.9},{"s":"4D","x":5.37,"y":2.0},{"s":"4D","x":5.0,"y":2.1},{"s":"4D","x":5.53,"y":2.2},{"s":"4D","x":5.16,"y":2.3},{"s":"4D","x":5.69,"y":2.4},{"s":"4D","x":5.3,"y":2.5},{"s":"4D","x":5.81,"y":2.6},{"s":"4D","x":5.42,"y":2.7},{"s":"4D","x":5.93,"y":2.8},{"s":"4D","x":5.54,"y":2.9},{"s":"4D","x":6.05,"y":3.0},{"s":"4D","x":5.66,"y":3.1},{"s":"4D","x":6.15,"y":3.2},{"s":"4D","x":5.74,"y":3.3},{"s":"4D","x":6.23,"y":3.4},{"s":"4D","x":5.82,"y":3.5},{"s":"4D","x":6.3,"y":3.6},{"s":"4D","x":5.88,"y":3.7},{"s":"4D","x":6.35,"y":3.8},{"s":"4D","x":5.92,"y":3.9},{"s":"4D","x":6.39,"y":4.0},{"s":"4D","x":5.95,"y":4.1},{"s":"4D","x":6.42,"y":4.2},{"s":"4D","x":5.98,"y":4.3},{"s":"4D","x":6.44,"y":4.4},{"s":"4D","x":5.9,"y":4.5},{"s":"4D","x":6.4,"y":4.6},{"s":"4D","x":5.95,"y":4.7},{"s":"4D","x":6.45,"y":4.8},{"s":"4D","x":6.0,"y":4.9},{"s":"4D","x":6.4,"y":5.0},{"s":"4D","x":5.9,"y":5.1},{"s":"4D","x":6.35,"y":5.2},{"s":"4D","x":5.95,"y":5.3},{"s":"4D","x":6.55,"y":5.4},{"s":"4D","x":6.0,"y":5.5},{"s":"4D","x":6.45,"y":5.6},{"s":"4D","x":5.9,"y":5.7},{"s":"4D","x":6.3,"y":5.8},{"s":"4D","x":5.85,"y":5.9},{"s":"4D","x":6.35,"y":6.0},{"s":"4D","x":5.9,"y":6.1},{"s":"4D","x":6.4,"y":6.2},{"s":"4D","x":5.95,"y":6.3},{"s":"4D","x":6.3,"y":6.4},{"s":"4D","x":5.8,"y":6.5},{"s":"4D","x":6.25,"y":6.6},{"s":"4D","x":5.75,"y":6.7},{"s":"4D","x":6.2,"y":6.8},{"s":"4D","x":5.85,"y":6.9},{"s":"4D","x":6.3,"y":7.0},{"s":"4D","x":5.9,"y":7.1},{"s":"4D","x":6.4,"y":7.2},{"s":"4D","x":6.0,"y":7.3},{"s":"4D","x":6.5,"y":7.4},{"s":"4D","x":6.1,"y":7.5},{"s":"4D","x":6.55,"y":7.6},{"s":"4D","x":6.1,"y":7.7},{"s":"4D","x":6.5,"y":7.8},{"s":"4D","x":6.05,"y":7.9},{"s":"4D","x":6.4,"y":8.0},{"s":"4D","x":6.0,"y":8.1},{"s":"4D","x":6.35,"y":8.2},{"s":"4D","x":6.0,"y":8.3},{"s":"4D","x":6.3,"y":8.38},
{"s":"4D","x":-4.2,"y":8.42},{"s":"4D","x":-3.6,"y":8.35},{"s":"4D","x":-4.1,"y":8.3},{"s":"4D","x":-3.4,"y":8.22},{"s":"4D","x":-3.8,"y":8.15},{"s":"4D","x":-3.2,"y":8.05},{"s":"4D","x":-3.6,"y":7.95},{"s":"4D","x":-2.9,"y":7.85},{"s":"4D","x":-3.3,"y":7.75},{"s":"4D","x":-2.8,"y":7.65},{"s":"4D","x":-3.2,"y":7.55},{"s":"4D","x":-2.8,"y":7.45},{"s":"4D","x":-3.2,"y":7.35},{"s":"4D","x":-2.75,"y":7.25},{"s":"4D","x":-3.15,"y":7.15},{"s":"4D","x":-2.7,"y":7.05},{"s":"4D","x":-3.1,"y":6.95},{"s":"4D","x":-2.75,"y":6.85},{"s":"4D","x":-3.15,"y":6.75},{"s":"4D","x":-2.8,"y":6.65},{"s":"4D","x":-3.2,"y":6.55},{"s":"4D","x":-2.8,"y":6.45},{"s":"4D","x":-3.2,"y":6.35},{"s":"4D","x":-2.75,"y":6.25},{"s":"4D","x":-3.15,"y":6.15},{"s":"4D","x":-2.7,"y":6.05},{"s":"4D","x":-3.1,"y":5.95},{"s":"4D","x":-2.75,"y":5.85},{"s":"4D","x":-3.1,"y":5.75},{"s":"4D","x":-2.7,"y":5.65},{"s":"4D","x":-3.0,"y":5.55},{"s":"4D","x":-2.8,"y":5.45},{"s":"4D","x":-2.85,"y":5.42},
{"s":"4D","x":1.3,"y":5.42},{"s":"4D","x":2.0,"y":5.48},{"s":"4D","x":2.5,"y":5.55},{"s":"4D","x":2.1,"y":5.65},{"s":"4D","x":2.6,"y":5.75},{"s":"4D","x":2.15,"y":5.85},{"s":"4D","x":2.55,"y":5.95},{"s":"4D","x":2.1,"y":6.05},{"s":"4D","x":2.5,"y":6.15},{"s":"4D","x":2.05,"y":6.25},{"s":"4D","x":2.5,"y":6.35},{"s":"4D","x":2.1,"y":6.45},{"s":"4D","x":2.55,"y":6.55},{"s":"4D","x":2.15,"y":6.65},{"s":"4D","x":2.6,"y":6.75},{"s":"4D","x":2.2,"y":6.85},{"s":"4D","x":2.6,"y":6.95},{"s":"4D","x":2.15,"y":7.05},{"s":"4D","x":2.55,"y":7.15},{"s":"4D","x":2.1,"y":7.25},{"s":"4D","x":2.5,"y":7.35},{"s":"4D","x":2.15,"y":7.45},{"s":"4D","x":2.6,"y":7.55},{"s":"4D","x":2.5,"y":7.65},{"s":"4D","x":3.2,"y":7.75},{"s":"4D","x":3.4,"y":7.85},{"s":"4D","x":4.0,"y":7.95},{"s":"4D","x":4.3,"y":8.05},{"s":"4D","x":4.9,"y":8.12},{"s":"4D","x":5.2,"y":8.2},{"s":"4D","x":5.7,"y":8.27},{"s":"4D","x":6.2,"y":8.33},{"s":"4D","x":6.2,"y":8.36},
{"s":"4D","x":-3.5,"y":8.36},{"s":"4D","x":-2.5,"y":8.3},{"s":"4D","x":-2.9,"y":8.22},{"s":"4D","x":-2.1,"y":8.15},{"s":"4D","x":-2.5,"y":8.05},{"s":"4D","x":-1.8,"y":7.95},{"s":"4D","x":-2.2,"y":7.85},{"s":"4D","x":-1.75,"y":7.75},{"s":"4D","x":-2.2,"y":7.65},{"s":"4D","x":-1.8,"y":7.55},{"s":"4D","x":-2.25,"y":7.45},{"s":"4D","x":-1.8,"y":7.35},{"s":"4D","x":-2.2,"y":7.25},{"s":"4D","x":-1.75,"y":7.15},{"s":"4D","x":-2.2,"y":7.05},{"s":"4D","x":-1.8,"y":6.95},{"s":"4D","x":-2.25,"y":6.85},{"s":"4D","x":-1.8,"y":6.75},{"s":"4D","x":-2.2,"y":6.65},{"s":"4D","x":-1.75,"y":6.55},{"s":"4D","x":-2.15,"y":6.45},{"s":"4D","x":-1.7,"y":6.35},{"s":"4D","x":-2.15,"y":6.25},{"s":"4D","x":-1.75,"y":6.15},{"s":"4D","x":-2.2,"y":6.05},{"s":"4D","x":-1.8,"y":5.95},{"s":"4D","x":-2.2,"y":5.85},{"s":"4D","x":-1.75,"y":5.75},{"s":"4D","x":-2.1,"y":5.65},{"s":"4D","x":-1.8,"y":5.55},{"s":"4D","x":-2.0,"y":5.45},
{"s":"4D","x":1.2,"y":5.44},{"s":"4D","x":1.8,"y":5.5},{"s":"4D","x":1.4,"y":5.6},{"s":"4D","x":1.9,"y":5.7},{"s":"4D","x":1.45,"y":5.8},{"s":"4D","x":1.85,"y":5.9},{"s":"4D","x":1.4,"y":6.0},{"s":"4D","x":1.8,"y":6.1},{"s":"4D","x":1.35,"y":6.2},{"s":"4D","x":1.8,"y":6.3},{"s":"4D","x":1.4,"y":6.4},{"s":"4D","x":1.85,"y":6.5},{"s":"4D","x":1.4,"y":6.6},{"s":"4D","x":1.8,"y":6.7},{"s":"4D","x":1.35,"y":6.8},{"s":"4D","x":1.8,"y":6.9},{"s":"4D","x":1.4,"y":7.0},{"s":"4D","x":1.85,"y":7.1},{"s":"4D","x":1.4,"y":7.2},{"s":"4D","x":1.8,"y":7.3},{"s":"4D","x":1.35,"y":7.4},{"s":"4D","x":1.8,"y":7.5},{"s":"4D","x":1.3,"y":7.6},{"s":"4D","x":1.75,"y":7.7},{"s":"4D","x":1.3,"y":7.8},{"s":"4D","x":1.7,"y":7.9},{"s":"4D","x":1.4,"y":8.0},{"s":"4D","x":2.0,"y":8.1},{"s":"4D","x":2.6,"y":8.17},{"s":"4D","x":3.4,"y":8.23},{"s":"4D","x":4.3,"y":8.28},{"s":"4D","x":5.2,"y":8.32},{"s":"4D","x":6.0,"y":8.36},{"s":"4D","x":6.3,"y":8.4}
]},
"layer":[
{"data":{"name":"c"},
 "mark":{"type":"line","strokeJoin":"round","strokeCap":"round"},
 "encoding":{
  "x":{"field":"x","type":"quantitative","scale":{"domain":[-6,10],"nice":false,"zero":false},
   "axis":{"orient":"top","values":[-6,-5,-4,-3,-2,-1,0,1,2,3,4,5,6,7,8,9,10],"labelExpr":"datum.value % 2 == 0 ? toString(datum.value) : ''","tickSize":{"condition":{"test":"datum.value % 2 == 0","value":58},"value":30},"labelPadding":12,"title":null}},
  "y":{"field":"y","type":"quantitative","scale":{"domain":[0,10],"reverse":true,"nice":false,"zero":false},
   "axis":{"orient":"left","values":[0,1,2,3,4,5,6,7,8,9,10],"labelExpr":"datum.value % 2 == 0 ? toString(datum.value) : ''","tickSize":{"condition":{"test":"datum.value % 2 == 0","value":58},"value":30},"labelPadding":32,"title":null}},
  "color":{"field":"s","type":"nominal","scale":{"domain":["0D","1.5D","2D","2.5D","3D","4D"],"range":["#FFB0FF","#FF0080","#CC7DFF","#00FF66","#0038FF","#550096"]},
   "legend":{"orient":"none","legendX":1526,"legendY":131,"title":null,"symbolType":"M-1.9,0H1.9","symbolSize":11025,"labelOffset":50,"labelFont":"Liberation Serif","labelFontSize":82,"labelColor":"black","labelLimit":500,"rowPadding":4.4,"padding":0,
    "encode":{"symbols":{"update":{"shape":{"signal":"datum.value == '0D' ? 'M-1.9,0H1.9' : 'M-1.9,-0.082H1.9M-1.9,0.082H1.9'"},"strokeWidth":{"signal":"datum.value == '0D' ? 13 : 4"}}}}}},
  "strokeWidth":{"field":"s","type":"nominal","scale":{"type":"ordinal","domain":["0D","1.5D","2D","2.5D","3D","4D"],"range":[13,12,12,12,12,12]},"legend":null},
  "order":{"value":null}
 }},
{"data":{"name":"c"},
 "transform":[{"filter":"datum.s != '0D'"}],
 "mark":{"type":"line","strokeJoin":"round","strokeCap":"round","color":"#FFFFFF","strokeWidth":4},
 "encoding":{
  "x":{"field":"x","type":"quantitative","scale":{"domain":[-6,10],"nice":false,"zero":false},"axis":{"title":null}},
  "y":{"field":"y","type":"quantitative","scale":{"domain":[0,10],"reverse":true,"nice":false,"zero":false},"axis":{"title":null}},
  "detail":{"field":"s","type":"nominal"},
  "order":{"value":null}
 }},
{"data":{"values":[{}]},"mark":{"type":"rule","color":"#FF0000","strokeWidth":13},
 "encoding":{"x":{"datum":7.66,"type":"quantitative","scale":{"domain":[-6,10],"nice":false,"zero":false},"axis":{"title":null}},"y":{"datum":5.25,"type":"quantitative","scale":{"domain":[0,10],"reverse":true,"nice":false,"zero":false},"axis":{"title":null}},"x2":{"datum":6.7},"y2":{"datum":4.65}}},
{"data":{"values":[{}]},"mark":{"type":"point","shape":"M0,-1L0.28,1L-0.28,1Z","size":10000,"filled":true,"color":"#FF0000","opacity":1,"strokeWidth":0,"angle":315},
 "encoding":{"x":{"datum":6.462,"type":"quantitative","scale":{"domain":[-6,10],"nice":false,"zero":false},"axis":{"title":null}},"y":{"datum":4.497,"type":"quantitative","scale":{"domain":[0,10],"reverse":true,"nice":false,"zero":false},"axis":{"title":null}}}},
{"data":{"values":[{}]},"mark":{"type":"text","text":"Full-flow penetration depth","font":"Liberation Serif","fontSize":80,"align":"left","baseline":"alphabetic","color":"black"},
 "encoding":{"x":{"datum":6.91,"type":"quantitative","scale":{"domain":[-6,10],"nice":false,"zero":false},"axis":{"title":null}},"y":{"datum":5.75,"type":"quantitative","scale":{"domain":[0,10],"reverse":true,"nice":false,"zero":false},"axis":{"title":null}}}},
{"data":{"values":[{}]},"mark":{"type":"text","text":"After full-flow penetration depth","font":"Liberation Serif","fontSize":85,"align":"left","baseline":"alphabetic","color":"black"},
 "encoding":{"x":{"datum":4.45,"type":"quantitative","scale":{"domain":[-6,10],"nice":false,"zero":false},"axis":{"title":null}},"y":{"datum":0.654,"type":"quantitative","scale":{"domain":[0,10],"reverse":true,"nice":false,"zero":false},"axis":{"title":null}}}},
{"data":{"values":[{}]},"mark":{"type":"text","text":"Normalized resistance，","font":"Liberation Serif, 'Noto Sans CJK SC'","fontSize":85,"align":"left","baseline":"alphabetic","color":"black"},
 "encoding":{"x":{"datum":-3.37,"type":"quantitative","scale":{"domain":[-6,10],"nice":false,"zero":false},"axis":{"title":null}},"y":{"datum":-1.333,"type":"quantitative","scale":{"domain":[0,10],"reverse":true,"nice":false,"zero":false},"axis":{"title":null}}}},
{"data":{"values":[{}]},"mark":{"type":"text","text":"q","font":"Liberation Serif","fontSize":85,"fontStyle":"italic","align":"left","baseline":"alphabetic","color":"black"},
 "encoding":{"x":{"datum":4.48,"type":"quantitative","scale":{"domain":[-6,10],"nice":false,"zero":false},"axis":{"title":null}},"y":{"datum":-1.333,"type":"quantitative","scale":{"domain":[0,10],"reverse":true,"nice":false,"zero":false},"axis":{"title":null}}}},
{"data":{"values":[{}]},"mark":{"type":"text","text":"T-bar","font":"Liberation Serif","fontSize":62,"align":"left","baseline":"alphabetic","color":"black"},
 "encoding":{"x":{"datum":4.862,"type":"quantitative","scale":{"domain":[-6,10],"nice":false,"zero":false},"axis":{"title":null}},"y":{"datum":-1.202,"type":"quantitative","scale":{"domain":[0,10],"reverse":true,"nice":false,"zero":false},"axis":{"title":null}}}},
{"data":{"values":[{}]},"mark":{"type":"text","text":"/","font":"Liberation Serif","fontSize":85,"align":"left","baseline":"alphabetic","color":"black"},
 "encoding":{"x":{"datum":6.26,"type":"quantitative","scale":{"domain":[-6,10],"nice":false,"zero":false},"axis":{"title":null}},"y":{"datum":-1.333,"type":"quantitative","scale":{"domain":[0,10],"reverse":true,"nice":false,"zero":false},"axis":{"title":null}}}},
{"data":{"values":[{}]},"mark":{"type":"text","text":"s","font":"Liberation Serif","fontSize":85,"fontStyle":"italic","align":"left","baseline":"alphabetic","color":"black"},
 "encoding":{"x":{"datum":6.5,"type":"quantitative","scale":{"domain":[-6,10],"nice":false,"zero":false},"axis":{"title":null}},"y":{"datum":-1.333,"type":"quantitative","scale":{"domain":[0,10],"reverse":true,"nice":false,"zero":false},"axis":{"title":null}}}},
{"data":{"values":[{}]},"mark":{"type":"text","text":"u0","font":"Liberation Serif","fontSize":62,"align":"left","baseline":"alphabetic","color":"black"},
 "encoding":{"x":{"datum":6.8,"type":"quantitative","scale":{"domain":[-6,10],"nice":false,"zero":false},"axis":{"title":null}},"y":{"datum":-1.202,"type":"quantitative","scale":{"domain":[0,10],"reverse":true,"nice":false,"zero":false},"axis":{"title":null}}}},
{"data":{"values":[{}]},"mark":{"type":"text","text":"Penetration depth (","font":"Liberation Serif","fontSize":86,"angle":270,"align":"left","baseline":"alphabetic","color":"black"},
 "encoding":{"x":{"datum":-7.734,"type":"quantitative","scale":{"domain":[-6,10],"nice":false,"zero":false},"axis":{"title":null}},"y":{"datum":6.87,"type":"quantitative","scale":{"domain":[0,10],"reverse":true,"nice":false,"zero":false},"axis":{"title":null}}}},
{"data":{"values":[{}]},"mark":{"type":"text","text":"d/D","font":"Liberation Serif","fontSize":86,"fontStyle":"italic","angle":270,"align":"left","baseline":"alphabetic","color":"black"},
 "encoding":{"x":{"datum":-7.734,"type":"quantitative","scale":{"domain":[-6,10],"nice":false,"zero":false},"axis":{"title":null}},"y":{"datum":2.98,"type":"quantitative","scale":{"domain":[0,10],"reverse":true,"nice":false,"zero":false},"axis":{"title":null}}}},
{"data":{"values":[{}]},"mark":{"type":"text","text":")","font":"Liberation Serif","fontSize":86,"angle":270,"align":"left","baseline":"alphabetic","color":"black"},
 "encoding":{"x":{"datum":-7.734,"type":"quantitative","scale":{"domain":[-6,10],"nice":false,"zero":false},"axis":{"title":null}},"y":{"datum":2.21,"type":"quantitative","scale":{"domain":[0,10],"reverse":true,"nice":false,"zero":false},"axis":{"title":null}}}}
]
}
